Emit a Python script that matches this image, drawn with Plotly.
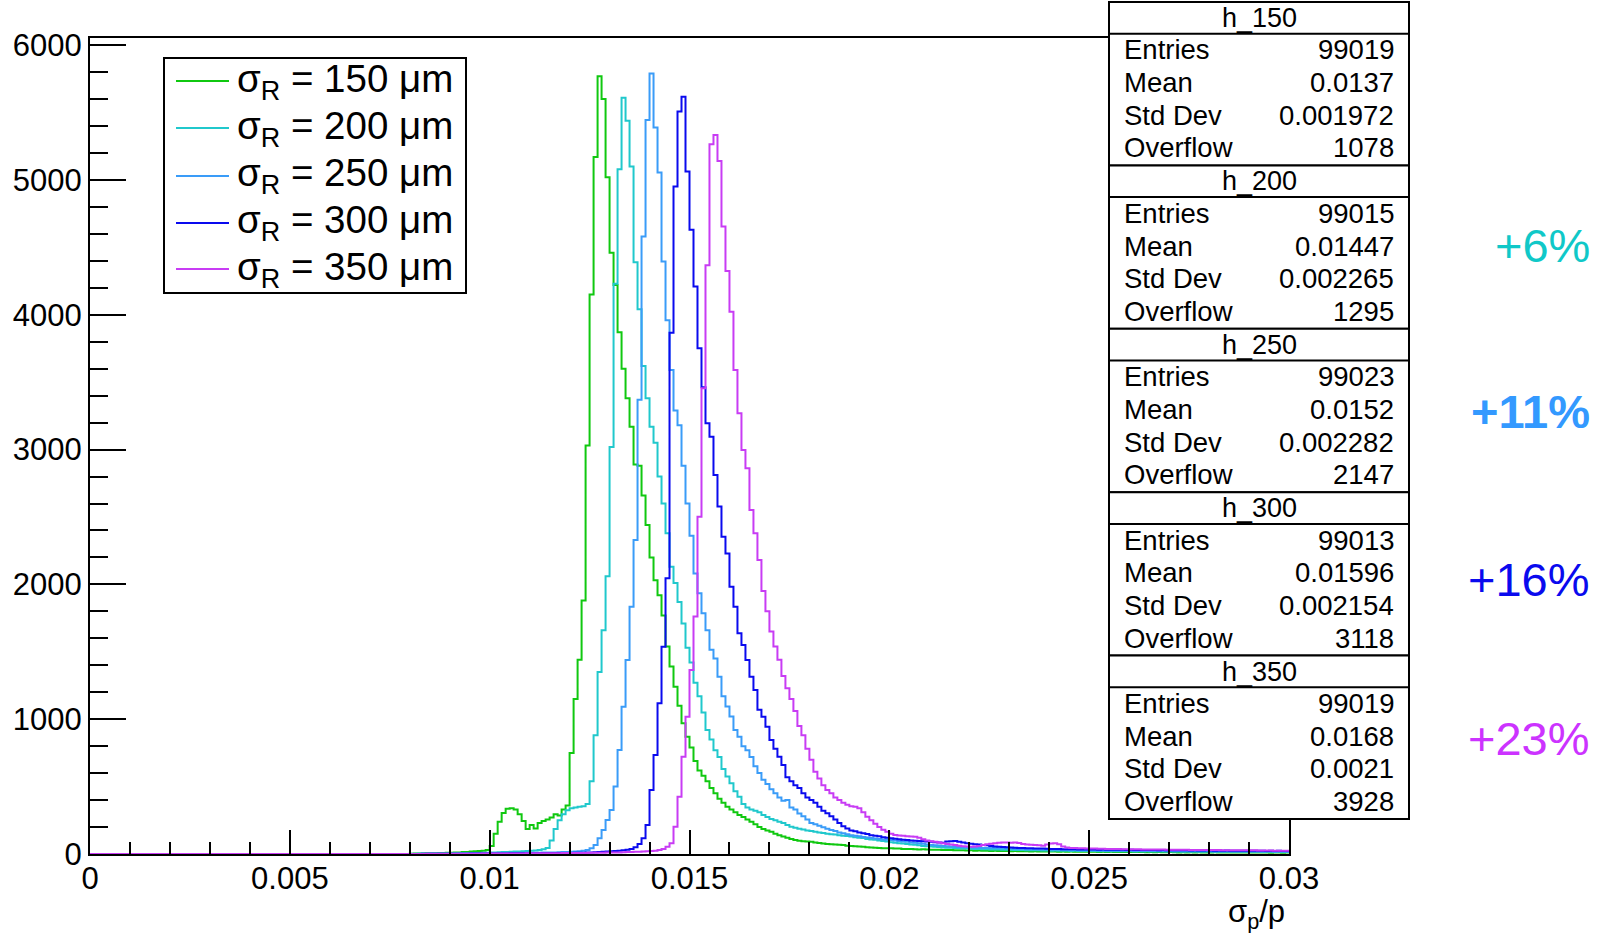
import numpy as np
import plotly.graph_objects as go

# ---------------- data ----------------
x_min, x_max, n_bins = 0.0, 0.03, 300

series_labels = ["σ<sub>R</sub> = 150 μm", "σ<sub>R</sub> = 200 μm", "σ<sub>R</sub> = 250 μm",
                 "σ<sub>R</sub> = 300 μm", "σ<sub>R</sub> = 350 μm"]
hist_names = ["h_150", "h_200", "h_250", "h_300", "h_350"]
entries = ["99019", "99015", "99023", "99013", "99019"]
means = ["0.0137", "0.01447", "0.0152", "0.01596", "0.0168"]
std_devs = ["0.001972", "0.002265", "0.002282", "0.002154", "0.0021"]
overflows = ["1078", "1295", "2147", "3118", "3928"]
increase_labels = ["+6%", "+11%", "+16%", "+23%"]

counts_150 = [
    0, 0, 0, 0, 0, 0, 0, 0, 0, 0, 0, 0, 0, 0, 0, 0, 0, 0, 0, 0,
    0, 0, 0, 0, 0, 0, 0, 0, 0, 0, 0, 0, 0, 0, 0, 0, 0, 0, 0, 0,
    0, 0, 0, 0, 0, 0, 0, 0, 0, 0, 0, 0, 0, 0, 0, 0, 0, 0, 0, 0,
    0, 0, 0, 0, 0, 0, 0, 0, 0, 0, 0, 0, 0, 0, 0, 0, 0, 0, 0, 0,
    2, 3, 3, 4, 5, 5, 6, 8, 8, 9, 10, 12, 12, 14, 15, 18, 20, 22, 25, 30,
    60, 150, 240, 305, 335, 340, 330, 295, 245, 185, 215, 190, 230, 245, 255, 270, 295, 285, 330, 360,
    750, 1150, 1440, 1880, 3030, 4150, 5170, 5770, 5600, 5020, 4460, 4220, 3870, 3600, 3380, 3170, 2890, 2880, 2660, 2440,
    2200, 2030, 1920, 1770, 1540, 1390, 1240, 1100, 970, 870, 790, 690, 620, 580, 540, 490, 450, 410, 380, 350,
    330, 310, 290, 275, 255, 240, 220, 200, 185, 175, 165, 150, 140, 130, 120, 112, 104, 98, 95, 92,
    90, 85, 82, 78, 75, 73, 70, 68, 66, 62, 60, 58, 55, 53, 50, 48, 47, 45, 43, 42,
    42, 40, 41, 38, 37, 38, 35, 34, 35, 33, 32, 31, 32, 30, 29, 30, 28, 27, 28, 26,
    27, 25, 26, 24, 25, 23, 24, 22, 23, 22, 21, 22, 20, 21, 20, 19, 20, 19, 18, 19,
    18, 19, 17, 18, 17, 18, 16, 17, 16, 17, 16, 17, 15, 16, 15, 16, 15, 14, 15, 14,
    15, 14, 15, 14, 13, 14, 13, 14, 13, 13, 14, 13, 12, 13, 12, 13, 12, 13, 12, 12,
    12, 13, 11, 12, 12, 11, 12, 11, 12, 11, 11, 12, 11, 11, 12, 10, 11, 11, 10, 11,
]

counts_200 = [
    0, 0, 0, 0, 0, 0, 0, 0, 0, 0, 0, 0, 0, 0, 0, 0, 0, 0, 0, 0,
    0, 0, 0, 0, 0, 0, 0, 0, 0, 0, 0, 0, 0, 0, 0, 0, 0, 0, 0, 0,
    0, 0, 0, 0, 0, 0, 0, 0, 0, 0, 0, 0, 0, 0, 0, 0, 0, 0, 0, 0,
    0, 0, 0, 0, 0, 0, 0, 0, 0, 0, 0, 0, 0, 0, 0, 0, 0, 0, 0, 0,
    1, 1, 2, 2, 2, 3, 3, 3, 4, 4, 4, 5, 5, 6, 6, 7, 8, 8, 9, 10,
    11, 12, 13, 14, 15, 16, 18, 19, 20, 22, 24, 26, 30, 35, 45, 100, 185, 250, 295, 325,
    340, 345, 350, 355, 370, 540, 880, 1350, 1660, 2060, 3020, 4230, 5080, 5610, 5440, 5100, 4390, 4040, 3620, 3380,
    3170, 3050, 2800, 2600, 2380, 2130, 2010, 1870, 1710, 1530, 1420, 1270, 1170, 1050, 920, 850, 770, 720, 630, 575,
    525, 465, 425, 370, 345, 330, 320, 310, 290, 275, 260, 250, 240, 230, 215, 203, 195, 188, 182, 175,
    170, 165, 160, 155, 150, 147, 144, 140, 136, 133, 130, 125, 121, 118, 112, 108, 105, 100, 96, 92,
    88, 84, 80, 78, 74, 70, 68, 64, 60, 57, 55, 53, 51, 49, 47, 46, 44, 43, 41, 40,
    39, 38, 37, 36, 35, 34, 34, 33, 32, 31, 31, 30, 30, 29, 28, 28, 27, 27, 26, 26,
    25, 26, 25, 24, 24, 23, 24, 23, 22, 23, 22, 22, 21, 22, 21, 20, 21, 20, 21, 20,
    20, 19, 20, 19, 20, 19, 18, 19, 18, 19, 18, 19, 18, 17, 18, 17, 18, 17, 17, 18,
    17, 16, 17, 17, 16, 17, 16, 16, 17, 16, 16, 17, 16, 15, 16, 16, 15, 16, 15, 16,
]

counts_250 = [
    0, 0, 0, 0, 0, 0, 0, 0, 0, 0, 0, 0, 0, 0, 0, 0, 0, 0, 0, 0,
    0, 0, 0, 0, 0, 0, 0, 0, 0, 0, 0, 0, 0, 0, 0, 0, 0, 0, 0, 0,
    0, 0, 0, 0, 0, 0, 0, 0, 0, 0, 0, 0, 0, 0, 0, 0, 0, 0, 0, 0,
    0, 0, 0, 0, 0, 0, 0, 0, 0, 0, 0, 0, 0, 0, 0, 0, 0, 0, 0, 0,
    0, 0, 1, 1, 1, 1, 1, 2, 2, 2, 2, 2, 3, 3, 3, 3, 4, 4, 4, 5,
    5, 5, 6, 6, 6, 7, 7, 8, 8, 9, 9, 10, 10, 11, 11, 12, 12, 13, 14, 15,
    16, 18, 20, 24, 30, 42, 67, 116, 178, 252, 326, 500, 771, 1093, 1439, 1835, 2330, 3370, 4580, 5445,
    5790, 5390, 5055, 4395, 3960, 3590, 3290, 3180, 2880, 2600, 2360, 2080, 1935, 1785, 1660, 1515, 1450, 1315, 1170, 1095,
    1020, 920, 870, 800, 770, 720, 650, 600, 550, 520, 480, 450, 420, 395, 400, 345, 330, 300, 280, 255,
    230, 220, 210, 198, 188, 178, 170, 160, 153, 146, 140, 136, 131, 127, 122, 119, 115, 111, 108, 105,
    104, 100, 96, 93, 90, 86, 83, 79, 76, 70, 67, 65, 63, 60, 58, 56, 54, 52, 50, 49,
    48, 47, 46, 45, 45, 44, 44, 43, 42, 41, 40, 39, 38, 37, 36, 35, 35, 34, 33, 33,
    32, 31, 31, 30, 30, 29, 29, 28, 28, 27, 27, 27, 26, 26, 25, 26, 25, 24, 25, 24,
    24, 23, 24, 23, 22, 23, 22, 23, 22, 21, 22, 21, 22, 21, 20, 21, 20, 21, 20, 20,
    20, 19, 20, 19, 20, 19, 19, 18, 19, 19, 18, 19, 18, 19, 18, 18, 17, 18, 18, 17,
]

counts_300 = [
    0, 0, 0, 0, 0, 0, 0, 0, 0, 0, 0, 0, 0, 0, 0, 0, 0, 0, 0, 0,
    0, 0, 0, 0, 0, 0, 0, 0, 0, 0, 0, 0, 0, 0, 0, 0, 0, 0, 0, 0,
    0, 0, 0, 0, 0, 0, 0, 0, 0, 0, 0, 0, 0, 0, 0, 0, 0, 0, 0, 0,
    0, 0, 0, 0, 0, 0, 0, 0, 0, 0, 0, 0, 0, 0, 0, 0, 0, 0, 0, 0,
    0, 0, 0, 1, 1, 1, 1, 1, 1, 2, 2, 2, 2, 2, 2, 3, 3, 3, 3, 3,
    3, 4, 4, 4, 4, 5, 5, 5, 5, 6, 6, 6, 6, 7, 7, 7, 7, 8, 8, 8,
    8, 9, 10, 10, 11, 12, 13, 14, 16, 18, 20, 22, 25, 28, 32, 38, 50, 75, 116, 215,
    474, 734, 1118, 1538, 2045, 3867, 4951, 5507, 5618, 5062, 4630, 4209, 3751, 3462, 3195, 3096, 2812, 2577, 2354, 2230,
    1983, 1835, 1637, 1550, 1439, 1315, 1216, 1070, 1019, 944, 845, 780, 722, 660, 570, 540, 510, 490, 450, 420,
    400, 380, 350, 320, 302, 280, 255, 230, 205, 190, 175, 168, 160, 153, 148, 140, 135, 131, 124, 120,
    116, 114, 110, 106, 104, 101, 99, 96, 94, 92, 91, 88, 86, 84, 92, 95, 96, 90, 85, 80,
    76, 72, 70, 67, 64, 60, 56, 54, 52, 50, 48, 47, 45, 44, 43, 42, 41, 40, 40, 39,
    38, 37, 37, 36, 36, 35, 35, 34, 34, 34, 33, 33, 32, 33, 32, 31, 32, 31, 31, 30,
    31, 30, 30, 29, 30, 29, 29, 28, 29, 28, 28, 27, 28, 27, 27, 26, 27, 26, 26, 27,
    26, 25, 26, 25, 26, 25, 25, 24, 25, 24, 24, 25, 24, 24, 23, 24, 23, 24, 23, 23,
]

counts_350 = [
    0, 0, 0, 0, 0, 0, 0, 0, 0, 0, 0, 0, 0, 0, 0, 0, 0, 0, 0, 0,
    0, 0, 0, 0, 0, 0, 0, 0, 0, 0, 0, 0, 0, 0, 0, 0, 0, 0, 0, 0,
    0, 0, 0, 0, 0, 0, 0, 0, 0, 0, 0, 0, 0, 0, 0, 0, 0, 0, 0, 0,
    0, 0, 0, 0, 0, 0, 0, 0, 0, 0, 0, 0, 0, 0, 0, 0, 0, 0, 0, 0,
    0, 0, 0, 0, 1, 1, 1, 1, 1, 1, 1, 2, 2, 2, 2, 2, 2, 2, 3, 3,
    3, 3, 3, 3, 4, 4, 4, 4, 4, 5, 5, 5, 5, 5, 6, 6, 6, 6, 7, 7,
    7, 7, 8, 8, 8, 9, 9, 10, 10, 11, 11, 12, 12, 13, 14, 15, 16, 17, 18, 20,
    22, 25, 30, 38, 54, 79, 203, 425, 722, 1019, 1365, 1761, 2502, 3455, 4368, 5265, 5334, 5141, 4654, 4325,
    4023, 3591, 3269, 2997, 2861, 2552, 2379, 2181, 1950, 1800, 1650, 1540, 1440, 1320, 1230, 1150, 1060, 950, 880, 780,
    700, 610, 560, 510, 475, 450, 420, 400, 380, 365, 355, 350, 340, 310, 277, 250, 225, 200, 180, 165,
    150, 141, 138, 135, 132, 130, 128, 120, 110, 100, 95, 91, 85, 80, 75, 70, 66, 62, 58, 55,
    54, 56, 60, 66, 72, 76, 80, 84, 86, 85, 84, 86, 82, 74, 70, 68, 66, 64, 62, 70,
    78, 80, 72, 55, 48, 45, 44, 43, 42, 41, 40, 40, 39, 39, 38, 38, 37, 37, 36, 36,
    36, 35, 35, 34, 34, 34, 33, 33, 33, 32, 32, 32, 31, 31, 31, 30, 30, 30, 30, 29,
    29, 29, 29, 28, 28, 28, 28, 27, 27, 27, 27, 27, 26, 26, 26, 26, 25, 25, 25, 25,
]

all_counts = [counts_150, counts_200, counts_250, counts_300, counts_350]

# ---------------- style ----------------
line_colors = ["#10c810", "#20c8cc", "#3a9cf8", "#0a0aee", "#c83cf4"]
increase_colors = ["#10c8c8", "#3399ff", "#0a0aee", "#cc33ff"]
FONT = "Liberation Sans"
W, H = 1613, 933
L, R, T, B = 90, 1289, 38, 854   # plot area in pixels


def px(x):
    return (x - L) / (R - L)


def py(y):
    return (B - y) / (B - T)


edges = np.linspace(x_min, x_max, n_bins + 1)

fig = go.Figure()
for cnt, col, lab in zip(all_counts, line_colors, series_labels):
    fig.add_trace(go.Scatter(
        x=edges, y=list(cnt) + [cnt[-1]], mode="lines", line_shape="hv",
        line=dict(color=col, width=2), name=lab, showlegend=False,
        hoverinfo="skip"))

shapes = []
annotations = []

# legend box
lg_l, lg_r, lg_t, lg_b = 164, 466, 58, 293
shapes.append(dict(type="rect", xref="paper", yref="paper", x0=px(lg_l), x1=px(lg_r),
                   y0=py(lg_b), y1=py(lg_t), line=dict(color="black", width=2),
                   fillcolor="white", layer="above"))
row_y = [81, 128, 176, 223, 269]
for yy, col, lab in zip(row_y, line_colors, series_labels):
    shapes.append(dict(type="line", xref="paper", yref="paper", x0=px(176), x1=px(229),
                       y0=py(yy), y1=py(yy), line=dict(color=col, width=2), layer="above"))
    annotations.append(dict(xref="paper", yref="paper", x=px(235), y=py(yy), text=lab,
                            showarrow=False, xanchor="left", yanchor="middle",
                            font=dict(family=FONT, size=38.5, color="black")))

# stats boxes
sb_l, sb_r = 1109, 1409
blk_h, hdr_h = 163.4, 31.7
for i in range(5):
    top = 2 + blk_h * i
    shapes.append(dict(type="rect", xref="paper", yref="paper", x0=px(sb_l), x1=px(sb_r),
                       y0=py(top + blk_h), y1=py(top), line=dict(color="black", width=2),
                       fillcolor="white", layer="above"))
    shapes.append(dict(type="line", xref="paper", yref="paper", x0=px(sb_l), x1=px(sb_r),
                       y0=py(top + hdr_h), y1=py(top + hdr_h),
                       line=dict(color="black", width=2), layer="above"))
    annotations.append(dict(xref="paper", yref="paper", x=px((sb_l + sb_r) / 2), y=py(top + 16),
                            text=hist_names[i], showarrow=False, xanchor="center",
                            yanchor="middle", font=dict(family=FONT, size=27, color="black")))
    rows = [("Entries", entries[i]), ("Mean", means[i]), ("Std Dev", std_devs[i]),
            ("Overflow", overflows[i])]
    for j, (k, v) in enumerate(rows):
        yy = top + 48 + 32.6 * j
        annotations.append(dict(xref="paper", yref="paper", x=px(1122), y=py(yy), text=k,
                                showarrow=False, xanchor="left", yanchor="middle",
                                font=dict(family=FONT, size=27.5, color="black")))
        annotations.append(dict(xref="paper", yref="paper", x=px(1396), y=py(yy), text=v,
                                showarrow=False, xanchor="right", yanchor="middle",
                                font=dict(family=FONT, size=27.5, color="black")))

# percentage annotations
inc_y = [245, 411, 579, 738]
for txt, col, yy in zip(increase_labels, increase_colors, inc_y):
    t = f"<b>{txt}</b>" if txt == "+11%" else txt
    annotations.append(dict(xref="paper", yref="paper", x=px(1592), y=py(yy), text=t,
                            showarrow=False, xanchor="right", yanchor="middle",
                            font=dict(family=FONT, size=47, color=col)))

# x axis title
annotations.append(dict(xref="paper", yref="paper", x=px(1287), y=py(914),
                        text="σ<sub>p</sub>/p", showarrow=False, xanchor="right",
                        yanchor="middle", font=dict(family=FONT, size=31, color="black")))

x_ticks = [0, 0.005, 0.01, 0.015, 0.02, 0.025, 0.03]
x_tick_text = ["0", "0.005", "0.01", "0.015", "0.02", "0.025", "0.03"]
y_ticks = [0, 1000, 2000, 3000, 4000, 5000, 6000]

fig.update_layout(
    width=W, height=H,
    margin=dict(l=L, r=W - R, t=T, b=H - B, pad=0, autoexpand=False),
    paper_bgcolor="white", plot_bgcolor="white",
    font=dict(family=FONT, size=31, color="black"),
    shapes=shapes, annotations=annotations, showlegend=False,
    xaxis=dict(range=[x_min, x_max], showline=True, linecolor="black", linewidth=2,
               mirror=True, ticks="inside", ticklen=24, tickwidth=2, tickcolor="black",
               tickvals=x_ticks, ticktext=x_tick_text, showgrid=False, zeroline=False,
               automargin=False,
               tickfont=dict(family=FONT, size=31, color="black"), ticklabelstandoff=-4,
               minor=dict(ticks="inside", ticklen=12, tickwidth=2, tickcolor="black",
                          dtick=0.001, tick0=0, showgrid=False)),
    yaxis=dict(range=[0, 6053], showline=True, linecolor="black", linewidth=2,
               mirror=True, ticks="inside", ticklen=36, tickwidth=2, tickcolor="black",
               tickvals=y_ticks, ticktext=[str(v) for v in y_ticks], showgrid=False,
               zeroline=False, automargin=False,
               tickfont=dict(family=FONT, size=31, color="black"),
               ticklabelstandoff=0,
               minor=dict(ticks="inside", ticklen=18, tickwidth=2, tickcolor="black",
                          dtick=200, tick0=0, showgrid=False)),
)

fig.write_html("out.html",
               config={"displayModeBar": False},
               post_script="document.body.style.margin='0';"
                           "document.body.style.overflow='hidden';")
